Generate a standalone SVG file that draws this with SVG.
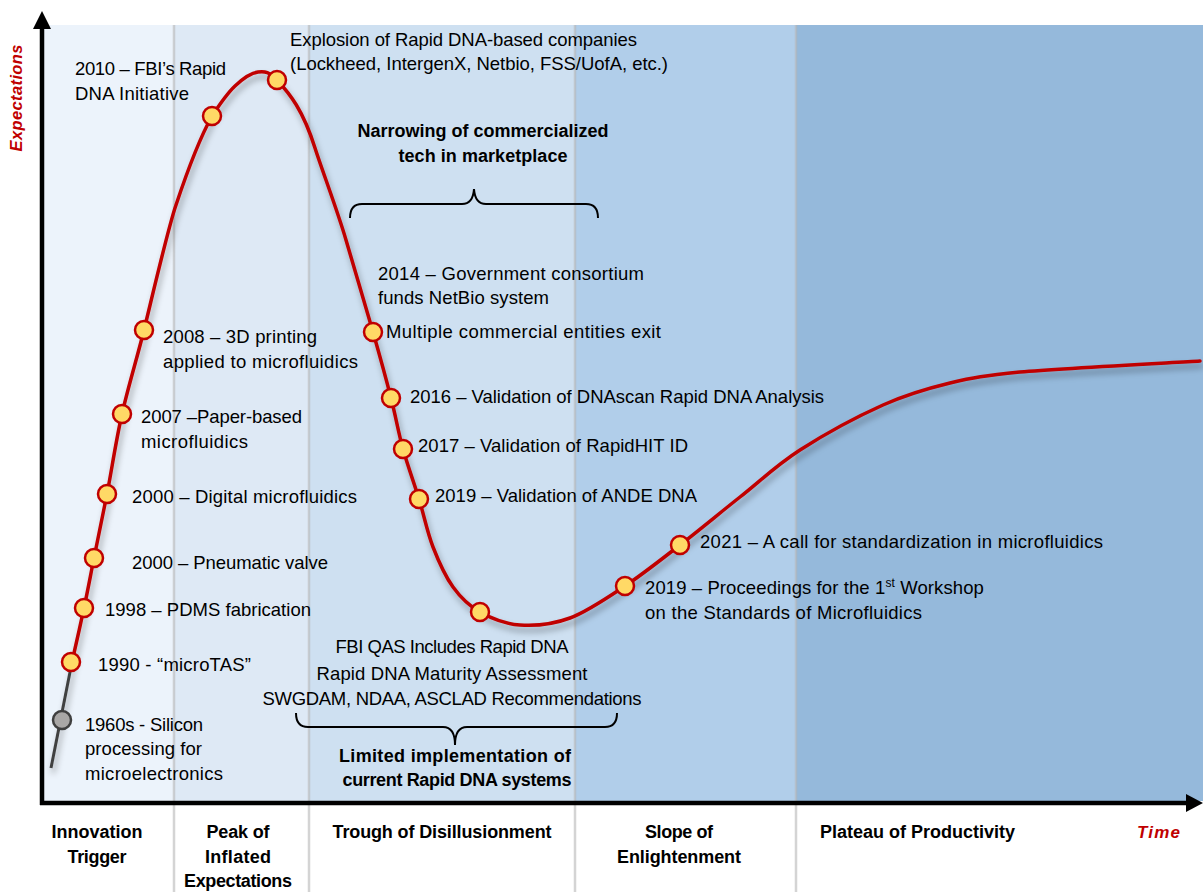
<svg xmlns="http://www.w3.org/2000/svg" width="1203" height="892" viewBox="0 0 1203 892">
<defs>
<style>
.t{font-family:"Liberation Sans",Arial,sans-serif;font-size:18.5px;fill:#000}
.b{font-family:"Liberation Sans",Arial,sans-serif;font-size:18px;font-weight:bold;fill:#000}
.c{text-anchor:middle}
.ax{font-family:"Liberation Sans",Arial,sans-serif;font-weight:bold;font-style:italic;fill:#C00000}
.dot{fill:#FFD966;stroke:#C00000;stroke-width:2.5}
.sep{stroke:#B8B8B8;stroke-opacity:0.6;stroke-width:2.5}
.brace{fill:none;stroke:#000;stroke-width:2}
</style>
<filter id="sh" x="-10%" y="-10%" width="120%" height="130%">
<feDropShadow dx="2" dy="5" stdDeviation="3" flood-color="#000" flood-opacity="0.35"/>
</filter>
</defs>
<rect width="1203" height="892" fill="#fff"/>
<g id="bands">
<rect x="44" y="25" width="130" height="776" fill="#ECF3FB"/>
<rect x="174" y="25" width="135" height="776" fill="#DEE9F5"/>
<rect x="309" y="25" width="266" height="776" fill="#CEE0F1"/>
<rect x="575" y="25" width="221" height="776" fill="#B1CEEA"/>
<rect x="796" y="25" width="407" height="776" fill="#95B9DB"/>
<line class="sep" x1="174" y1="25" x2="174" y2="892"/>
<line class="sep" x1="309" y1="25" x2="309" y2="892"/>
<line class="sep" x1="575" y1="25" x2="575" y2="892"/>
<line class="sep" x1="796" y1="25" x2="796" y2="892"/>
</g>
<g id="axes">
<line x1="42" y1="805" x2="42" y2="26" stroke="#000" stroke-width="4.5"/>
<polygon points="42,11 33,29 51,29" fill="#000"/>
<line x1="40" y1="803" x2="1188" y2="803" stroke="#000" stroke-width="4.5"/>
<polygon points="1203,803 1186,794 1186,812" fill="#000"/>
<text class="ax" font-size="16.5" transform="translate(22,98) rotate(-90)" text-anchor="middle" textLength="107">Expectations</text>
<text class="ax" font-size="17" x="1180" y="838" text-anchor="end" textLength="43">Time</text>
</g>
<g id="phase-labels">
<text class="b c" x="97" y="838" textLength="91">Innovation</text>
<text class="b c" x="97" y="863" textLength="59">Trigger</text>
<text class="b c" x="238" y="838" textLength="63">Peak of</text>
<text class="b c" x="238" y="863" textLength="66">Inflated</text>
<text class="b c" x="238" y="887" textLength="108">Expectations</text>
<text class="b c" x="442" y="838" textLength="219">Trough of Disillusionment</text>
<text class="b c" x="679" y="838" textLength="68">Slope of</text>
<text class="b c" x="679" y="863" textLength="124">Enlightenment</text>
<text class="b" x="820" y="838" textLength="195">Plateau of Productivity</text>
</g>
<g id="connectors" filter="url(#sh)">
<line x1="51" y1="768" x2="72" y2="662" stroke="#404040" stroke-width="3"/>
<path fill="none" stroke="#C00000" stroke-width="3.5" stroke-linecap="round" d="M72,662 C74,653 80.3,625.3 84,608 C87.7,590.7 90.2,577 94,558 C97.8,539 102.3,518 107,494 C111.7,470 115.8,441.3 122,414 C128.2,386.7 137.5,356.5 144,330 C150,306 168,228 176,205 C184,181 197,143 212,116 C219,105.3 227.3,93.3 235,86 C242.7,78.7 251,73 258,72 C265,71 269.5,72 277,80 C290,94 303,110 315,148 C322,170 337.7,211.3 346,240 C354.3,268.7 365.5,305.7 373,332 C380.5,358.3 386,378.5 391,398 C396,417.5 398.3,432.2 403,449 C407.7,465.8 414,482.7 419,499 C424,515.3 427.3,532.3 433,547 C438.7,561.7 445.2,576.2 453,587 C460.8,597.8 468.8,605.7 480,612 C491.2,618.3 505,624 520,625 C535,626 552.5,624.5 570,618 C587.5,611.5 606.7,598.2 625,586 C643.3,573.8 660.8,559.8 680,545 C699.2,530.2 720,512.8 740,497 C760,481.2 776.2,465.3 800,450 C823.8,434.7 858,416.2 883,405 C908,393.8 927.2,388.5 950,383 C972.8,377.5 985,375.5 1020,372 C1061.7,368.3 1170,362.8 1200,361"/>
</g>
<g id="n1960">
<circle cx="62" cy="720" r="9" fill="#A9A7A6" stroke="#3F3F3F" stroke-width="2.5"/>
<text class="t" x="85" y="731" textLength="118">1960s - Silicon</text>
<text class="t" x="85" y="755" textLength="117">processing for</text>
<text class="t" x="85" y="780" textLength="138">microelectronics</text>
</g>
<g id="n1990">
<circle class="dot" cx="71" cy="662" r="9"/>
<text class="t" x="98" y="671" textLength="153">1990 - “microTAS”</text>
</g>
<g id="n1998">
<circle class="dot" cx="84" cy="608" r="9"/>
<text class="t" x="105" y="616" textLength="206">1998 – PDMS fabrication</text>
</g>
<g id="n2000a">
<circle class="dot" cx="94" cy="558" r="9"/>
<text class="t" x="132" y="569" textLength="196">2000 – Pneumatic valve</text>
</g>
<g id="n2000b">
<circle class="dot" cx="107" cy="494" r="9"/>
<text class="t" x="132" y="503" textLength="225">2000 – Digital microfluidics</text>
</g>
<g id="n2007">
<circle class="dot" cx="122" cy="414" r="9"/>
<text class="t" x="141" y="423" textLength="161">2007 –Paper-based</text>
<text class="t" x="141" y="448" textLength="107">microfluidics</text>
</g>
<g id="n2008">
<circle class="dot" cx="144" cy="330" r="9"/>
<text class="t" x="163" y="343" textLength="154">2008 – 3D printing</text>
<text class="t" x="163" y="368" textLength="195">applied to microfluidics</text>
</g>
<g id="n2010">
<circle class="dot" cx="212" cy="116" r="9"/>
<text class="t" x="75" y="75" textLength="151">2010 – FBI’s Rapid</text>
<text class="t" x="75" y="100" textLength="114">DNA Initiative</text>
</g>
<g id="nExplosion">
<circle class="dot" cx="277" cy="80" r="9"/>
<text class="t" x="290" y="46" textLength="347">Explosion of Rapid DNA-based companies</text>
<text class="t" x="290" y="70" textLength="378">(Lockheed, IntergenX, Netbio, FSS/UofA, etc.)</text>
</g>
<g id="nNarrowing">
<path class="brace" d="M350,218 Q350,204 362,204 L462,204 Q473,204 474,189 Q475,204 486,204 L586,204 Q598,204 598,218"/>
<text class="b c" x="483" y="137" textLength="251">Narrowing of commercialized</text>
<text class="b c" x="483" y="162" textLength="169">tech in marketplace</text>
</g>
<g id="n2014">
<text class="t" x="378" y="280" textLength="266">2014 – Government consortium</text>
<text class="t" x="378" y="304" textLength="171">funds NetBio system</text>
<circle class="dot" cx="373" cy="332" r="9"/>
<text class="t" x="386" y="338" textLength="275">Multiple commercial entities exit</text>
</g>
<g id="n2016">
<circle class="dot" cx="391" cy="398" r="9"/>
<text class="t" x="410" y="403" textLength="414">2016 – Validation of DNAscan Rapid DNA Analysis</text>
</g>
<g id="n2017">
<circle class="dot" cx="403" cy="449" r="9"/>
<text class="t" x="418" y="452" textLength="270">2017 – Validation of RapidHIT ID</text>
</g>
<g id="n2019a">
<circle class="dot" cx="419" cy="499" r="9"/>
<text class="t" x="435" y="502" textLength="262">2019 – Validation of ANDE DNA</text>
</g>
<g id="nTrough">
<circle class="dot" cx="480" cy="612" r="9"/>
<text class="t c" x="452" y="653" textLength="233">FBI QAS Includes Rapid DNA</text>
<text class="t c" x="452" y="680" textLength="271">Rapid DNA Maturity Assessment</text>
<text class="t c" x="452" y="705" textLength="379">SWGDAM, NDAA, ASCLAD Recommendations</text>
<path class="brace" d="M296,713 Q296,727 308,727 L443,727 Q455,727 455,745 Q455,727 467,727 L605,727 Q617,727 617,713"/>
<text class="b c" x="455" y="762" textLength="232">Limited implementation of</text>
<text class="b c" x="457" y="786" textLength="229">current Rapid DNA systems</text>
</g>
<g id="n2019b">
<circle class="dot" cx="625" cy="586" r="9"/>
<text class="t" x="645" y="594" letter-spacing="0.1">2019 – Proceedings for the 1<tspan font-size="12" dy="-7">st</tspan><tspan dy="7"> Workshop</tspan></text>
<text class="t" x="645" y="619" textLength="277">on the Standards of Microfluidics</text>
</g>
<g id="n2021">
<circle class="dot" cx="680" cy="545" r="9"/>
<text class="t" x="700" y="548" textLength="403">2021 – A call for standardization in microfluidics</text>
</g>
</svg>
